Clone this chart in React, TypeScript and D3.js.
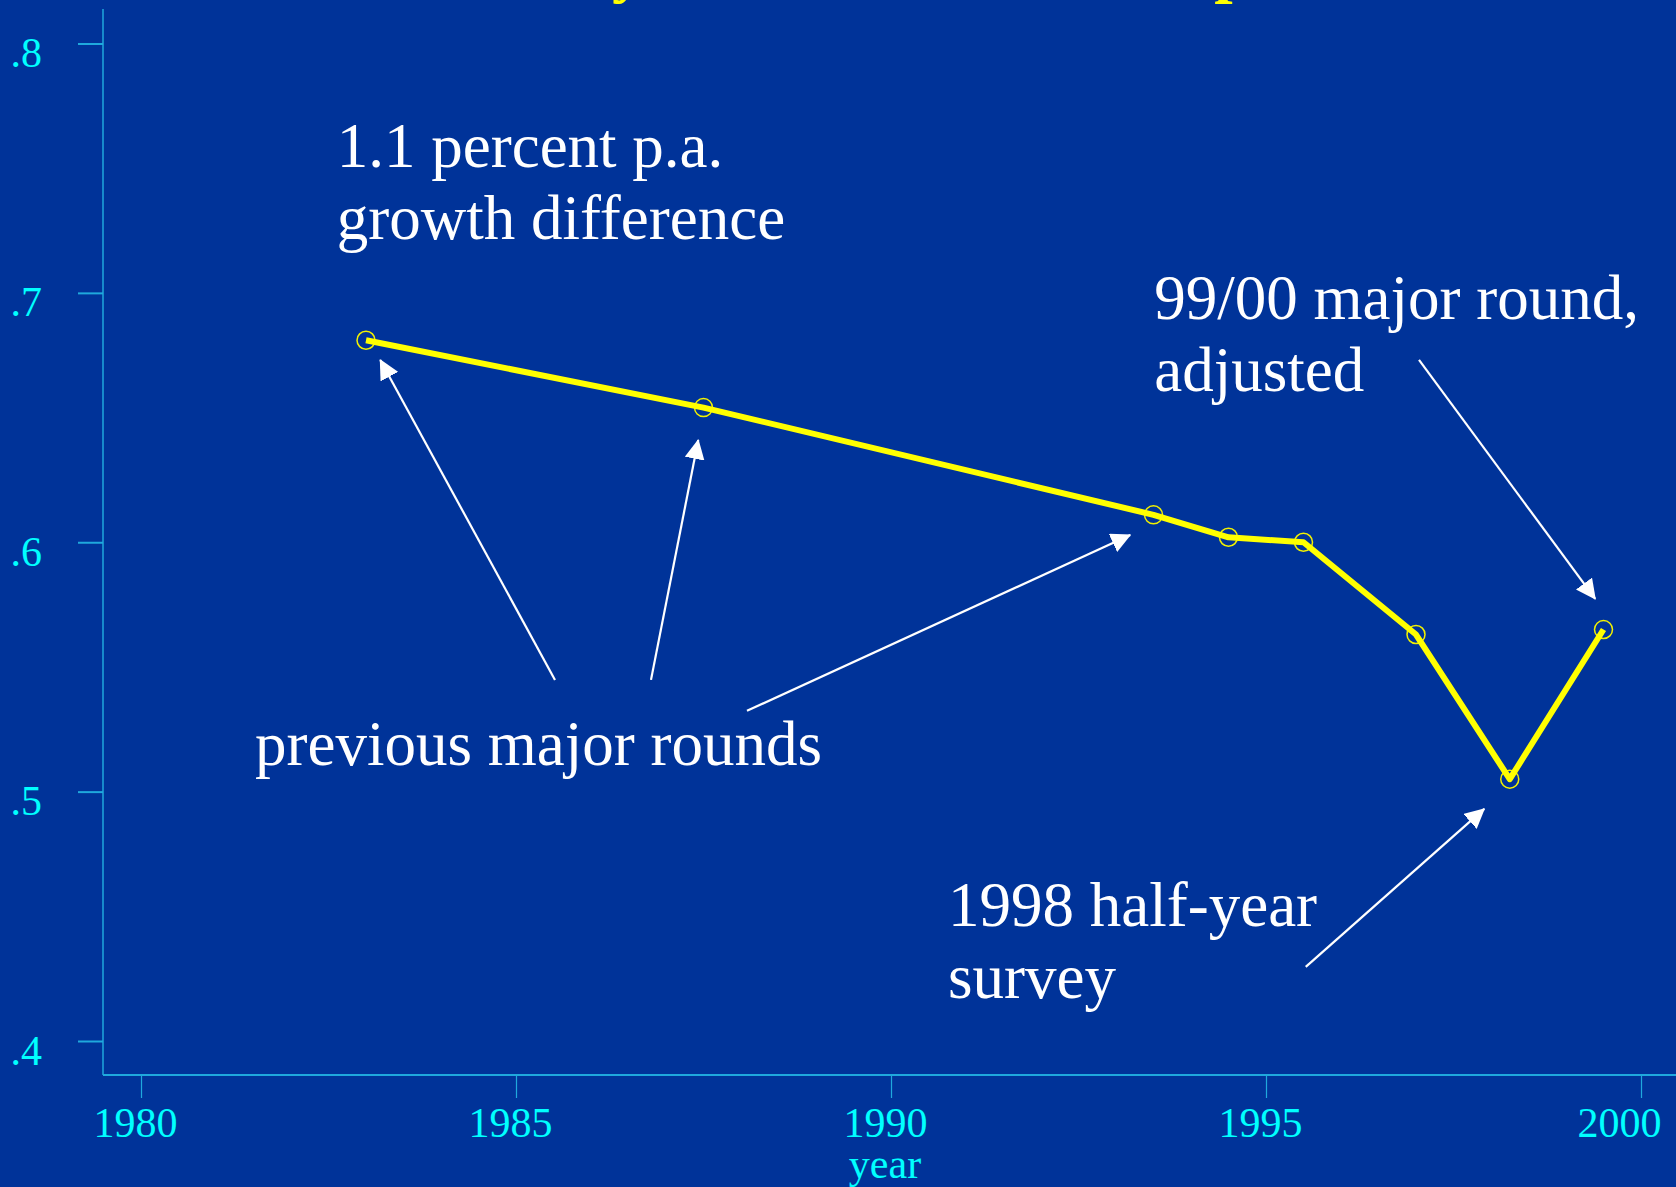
import { useEffect, useRef } from "react"
import * as d3 from "d3"

// survey years and the rural/urban ratio
const years = [1983.0, 1987.5, 1993.5, 1994.5, 1995.5, 1997.0, 1998.25, 1999.5]
const ratio = [0.681, 0.654, 0.611, 0.602, 0.600, 0.563, 0.505, 0.565]

const xTicks = [1980, 1985, 1990, 1995, 2000]
const yTicks = [0.4, 0.5, 0.6, 0.7, 0.8]

const title = "Rural/urban mean ratio by the NSS round and period"

// annotation text: lines, anchor year / value of first baseline
const noteLines = [
  ["1.1 percent p.a.", "growth difference"],
  ["previous major rounds"],
  ["99/00 major round,", "adjusted"],
  ["1998 half-year", "survey"],
]
const noteX = [1982.61, 1981.52, 1993.51, 1990.76]
const noteY = [0.7505, 0.5107, 0.6895, 0.4462]

// arrows: from (year, value) to (year, value)
const arrowFrom = [[1985.52, 0.5448], [1986.8, 0.5448], [1988.08, 0.5324], [1997.04, 0.6731], [1995.53, 0.4297]]
const arrowTo = [[1983.19, 0.6731], [1987.43, 0.6410], [1993.19, 0.6029], [1999.39, 0.5773], [1997.91, 0.4931]]

const W = 1676
const H = 1187
const BG = "#003399"
const AXIS = "#1fa9dd"
const LABEL = "#00ffff"
const FONT = "'Liberation Serif', 'Times New Roman', serif"

const App = () => {
  const ref = useRef<SVGSVGElement>(null)

  useEffect(() => {
    const svg = d3.select(ref.current)
    svg.selectAll("*").remove()

    const x = d3.scaleLinear().domain([1980, 2000]).range([141, 1641])
    const y = d3.scaleLinear().domain([0.4, 0.8]).range([1041, 43.5])

    svg.append("rect").attr("width", W).attr("height", H).attr("fill", BG)

    // title, mostly cut off at the top
    const t = svg.append("text")
      .attr("x", 0)
      .attr("y", -10)
      .attr("font-family", FONT)
      .attr("font-weight", "bold")
      .attr("font-size", 66)
      .attr("fill", "#ffff00")
      .text(title)
    const tn = t.node() as SVGTextElement
    const yStart = tn.getStartPositionOfChar(title.indexOf("by") + 1).x
    t.attr("x", 612 - yStart)

    // arrow head
    svg.append("defs").append("marker")
      .attr("id", "head")
      .attr("markerUnits", "userSpaceOnUse")
      .attr("viewBox", "0 -10 20 20")
      .attr("refX", 19)
      .attr("refY", 0)
      .attr("markerWidth", 20)
      .attr("markerHeight", 20)
      .attr("orient", "auto")
      .append("path")
      .attr("d", "M0,-10L20,0L0,10Z")
      .attr("fill", "white")

    // axes
    const yAxis = d3.axisLeft(y)
      .tickValues(yTicks)
      .tickSize(25)
      .tickFormat(d => d3.format(".1f")(d as number).replace(/^0/, ""))
    const gy = svg.append("g").attr("transform", "translate(103,0)").call(yAxis)
    gy.select(".domain").remove()
    gy.selectAll(".tick line").attr("stroke", AXIS).attr("stroke-width", 2)
    gy.selectAll(".tick text")
      .attr("fill", LABEL)
      .attr("font-family", FONT)
      .attr("font-size", 42)
      .attr("x", -61)
      .attr("dy", 23)
      .attr("text-anchor", "end")

    const xAxis = d3.axisBottom(x)
      .tickValues(xTicks)
      .tickSize(23)
      .tickFormat(d3.format("d"))
    const gx = svg.append("g").attr("transform", "translate(0,1075)").call(xAxis)
    gx.select(".domain").remove()
    gx.selectAll(".tick line").attr("stroke", AXIS).attr("stroke-width", 1.2)
    gx.selectAll(".tick text")
      .attr("fill", LABEL)
      .attr("font-family", FONT)
      .attr("font-size", 42)
      .attr("x", d => (d === 2000 ? -22 : -6))
      .attr("y", 62)
      .attr("dy", 0)

    svg.append("line")
      .attr("x1", 103).attr("x2", 103).attr("y1", 9).attr("y2", 1075)
      .attr("stroke", AXIS).attr("stroke-width", 1.5)
    svg.append("line")
      .attr("x1", 103).attr("x2", W).attr("y1", 1075).attr("y2", 1075)
      .attr("stroke", AXIS).attr("stroke-width", 2)

    svg.append("text")
      .attr("x", x(1990) - 6)
      .attr("y", 1178)
      .attr("text-anchor", "middle")
      .attr("font-family", FONT)
      .attr("font-size", 42)
      .attr("fill", LABEL)
      .text("year")

    // markers
    svg.append("g")
      .selectAll("circle")
      .data(years)
      .join("circle")
      .attr("cx", d => x(d))
      .attr("cy", (d, i) => y(ratio[i]))
      .attr("r", 9)
      .attr("fill", "none")
      .attr("stroke", "#f2f200")
      .attr("stroke-width", 1.5)

    // line
    const line = d3.line<number>()
      .x(d => x(d))
      .y((d, i) => y(ratio[i]))
    svg.append("path")
      .attr("d", line(years))
      .attr("fill", "none")
      .attr("stroke", "#ffff00")
      .attr("stroke-width", 6)
      .attr("stroke-linejoin", "round")

    // arrows
    svg.append("g")
      .selectAll("line")
      .data(arrowFrom)
      .join("line")
      .attr("x1", d => x(d[0]))
      .attr("y1", d => y(d[1]))
      .attr("x2", (d, i) => x(arrowTo[i][0]))
      .attr("y2", (d, i) => y(arrowTo[i][1]))
      .attr("stroke", "white")
      .attr("stroke-width", 2.2)
      .attr("marker-end", "url(#head)")

    // notes
    const notes = svg.append("g")
      .selectAll("text")
      .data(noteLines)
      .join("text")
      .attr("x", (d, i) => x(noteX[i]))
      .attr("y", (d, i) => y(noteY[i]))
      .attr("font-family", FONT)
      .attr("font-size", 63)
      .attr("fill", "white")
    notes.selectAll("tspan")
      .data((d, i) => d.map(s => ({ s, i })))
      .join("tspan")
      .attr("x", d => x(noteX[d.i]))
      .attr("dy", (d, j) => (j === 0 ? 0 : 72))
      .text(d => d.s)
  }, [])

  return (
    <svg
      ref={ref}
      width={W}
      height={H}
      style={{ position: "absolute", left: 0, top: 0, display: "block" }}
    />
  )
}

export default App
